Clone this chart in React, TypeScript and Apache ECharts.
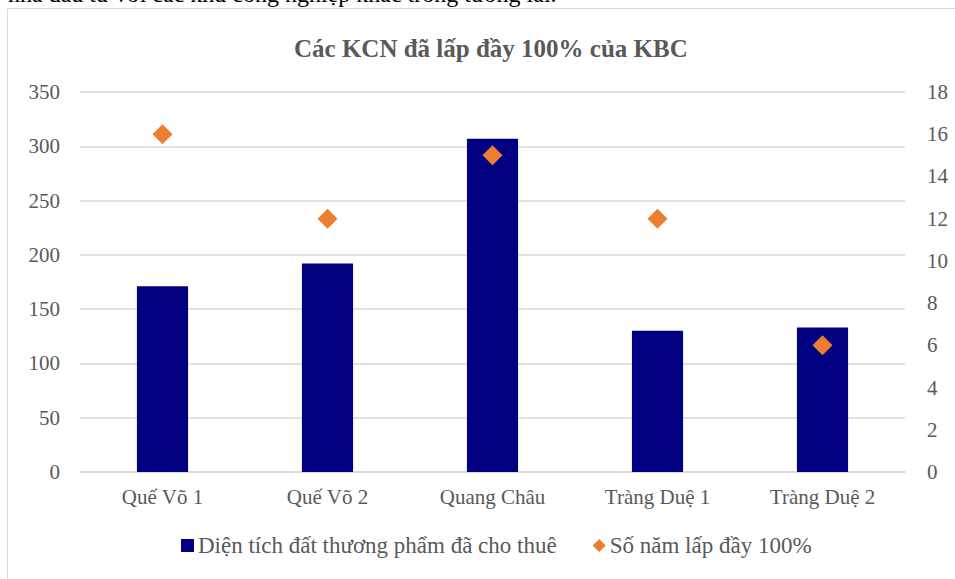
import React, { useEffect, useRef } from "react";
import * as echarts from "echarts";

const categories = ["Quế Võ 1", "Quế Võ 2", "Quang Châu", "Tràng Duệ 1", "Tràng Duệ 2"];
const areaLeased = [171, 192, 307, 130, 133];
const yearsToFill = [16, 12, 15, 12, 6];
const leftTicks = { min: 0, max: 350, interval: 50 };
const rightTicks = { min: 0, max: 18, interval: 2 };
const titleText = "Các KCN đã lấp đầy 100% của KBC";
const seriesNames = ["Diện tích đất thương phẩm đã cho thuê", "Số năm lấp đầy 100%"];
const topText = "nhà đầu tư với các khu công nghiệp khác trong tương lai.";

const SERIF = "'Liberation Serif', 'DejaVu Serif', serif";
const GRAY = "#595959";

export default function App() {
  const ref = useRef<HTMLDivElement>(null);
  useEffect(() => {
    const chart = echarts.init(ref.current!, null, { renderer: "svg" });
    chart.setOption({
      animation: false,
      backgroundColor: "#ffffff",
      title: {
        text: titleText,
        left: 289,
        top: 31,
        textStyle: { fontFamily: SERIF, fontWeight: "bold", fontSize: 25, color: GRAY },
      },
      graphic: [
        {
          type: "text",
          left: 8,
          top: -18,
          style: { text: topText, font: "24px 'Liberation Serif', serif", fill: "#000" },
        },
        {
          type: "rect",
          shape: { x: 7.5, y: 8.5, width: 1000, height: 700 },
          style: { fill: "none", stroke: "#d9d9d9", lineWidth: 1 },
          silent: true,
        },
      ],
      legend: {
        bottom: 17,
        left: 176,
        itemGap: 36,
        itemWidth: 13,
        itemHeight: 13,
        textStyle: { fontFamily: SERIF, fontSize: 23, color: GRAY, padding: [0, 0, 0, -1] },
        data: [
          { name: seriesNames[0], icon: "rect" },
          { name: seriesNames[1], icon: "diamond" },
        ],
      },
      grid: { left: 80, right: 50, top: 92, bottom: 107 },
      xAxis: {
        type: "category",
        data: categories,
        axisTick: { show: false },
        axisLine: { lineStyle: { color: "#d9d9d9", width: 1.5 } },
        axisLabel: { fontFamily: SERIF, fontSize: 21, color: GRAY, margin: 14 },
      },
      yAxis: [
        {
          type: "value",
          ...leftTicks,
          axisLine: { show: false },
          axisTick: { show: false },
          splitLine: { lineStyle: { color: "#d9d9d9", width: 1.5 } },
          axisLabel: { fontFamily: SERIF, fontSize: 21, color: GRAY, margin: 20 },
        },
        {
          type: "value",
          ...rightTicks,
          position: "right",
          axisLine: { show: false },
          axisTick: { show: false },
          splitLine: { show: false },
          axisLabel: { fontFamily: SERIF, fontSize: 21, color: GRAY, margin: 22 },
        },
      ],
      series: [
        {
          name: seriesNames[0],
          type: "bar",
          data: areaLeased,
          barWidth: "31%",
          itemStyle: { color: "#000080" },
          yAxisIndex: 0,
        },
        {
          name: seriesNames[1],
          type: "scatter",
          data: yearsToFill,
          yAxisIndex: 1,
          symbol: "diamond",
          symbolSize: 20,
          itemStyle: { color: "#ED7D31", opacity: 1 },
        },
      ],
    });
    return () => chart.dispose();
  }, []);
  return <div ref={ref} style={{ position: "fixed", left: 0, top: 0, width: 955, height: 579 }} />;
}
